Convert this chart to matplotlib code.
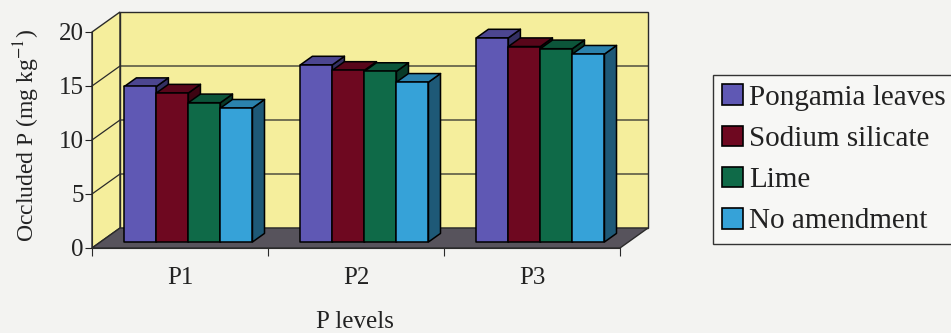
import numpy as np
import matplotlib.pyplot as plt
import matplotlib.colors as mcolors
from matplotlib.patches import Polygon, Patch

# data
levels = ['P1', 'P2', 'P3']
treatments = ['Pongamia leaves', 'Sodium silicate', 'Lime', 'No amendment']
pongamia = [14.4, 16.4, 18.9]
sodium = [13.8, 15.9, 18.1]
lime = [12.9, 15.8, 17.9]
no_amend = [12.4, 14.8, 17.4]
series = [pongamia, sodium, lime, no_amend]
colors = ['#5f58b4', '#6e0820', '#0f6a48', '#36a2d8']
yticks = [0, 5, 10, 15, 20]

plt.rcParams['font.family'] = ['Liberation Serif', 'DejaVu Serif']
plt.rcParams['mathtext.fontset'] = 'stix'

W, H = 951, 333
fig = plt.figure(figsize=(W / 100, H / 100), dpi=100)
fig.patch.set_facecolor('#f3f3f1')

# front plane of the pseudo-3d box, in pixels
x0, x1, y0, y1 = 92, 620, 248, 32
ax = fig.add_axes([x0 / W, 1 - y0 / H, (x1 - x0) / W, (y0 - y1) / H])
ax.set_xlim(0, 3)
ax.set_ylim(0, 20)
ax.patch.set_visible(False)

# depth offset of the box (28 px right, 20 px up)
ddx = 28 * 3 / (x1 - x0)
ddy = 20 * 20 / (y0 - y1)

wall = '#f5ee9c'
edge = '#2a2a2a'
ax.add_patch(Polygon([(0, 0), (ddx, ddy), (ddx, 20 + ddy), (0, 20)],
                     fc=wall, ec=edge, lw=1, zorder=0, clip_on=False))
ax.add_patch(Polygon([(ddx, ddy), (3 + ddx, ddy), (3 + ddx, 20 + ddy), (ddx, 20 + ddy)],
                     fc=wall, ec=edge, lw=1, zorder=0, clip_on=False))
ax.add_patch(Polygon([(0, 0), (3, 0), (3 + ddx, ddy), (ddx, ddy)],
                     fc='#57535c', ec=edge, lw=1, zorder=1, clip_on=False))
for v in yticks[1:-1]:
    ax.plot([0, ddx, 3 + ddx], [v, v + ddy, v + ddy], color=edge, lw=0.9,
            zorder=0.5, clip_on=False)

# bars
bw = 0.182
f0, f1 = 0.3, 0.73
ox, oy = (f1 - f0) * ddx, (f1 - f0) * ddy
for ci in range(len(levels)):
    start = ci + 0.5 - 2 * bw
    for si, vals in enumerate(series):
        L = start + si * bw + f0 * ddx
        R = L + bw
        b = f0 * ddy
        t = b + vals[ci]
        c = np.array(mcolors.to_rgb(colors[si]))
        front = [(L, b), (R, b), (R, t), (L, t)]
        top = [(L, t), (R, t), (R + ox, t + oy), (L + ox, t + oy)]
        side = [(R, b), (R + ox, b + oy), (R + ox, t + oy), (R, t)]
        for poly, shade in ((side, 0.55), (top, 0.8), (front, 1.0)):
            ax.add_patch(Polygon(poly, fc=c * shade, ec='black', lw=1.1,
                                 zorder=2, clip_on=False, joinstyle='round'))

# axes
for s in ['top', 'right']:
    ax.spines[s].set_visible(False)
for s in ['left', 'bottom']:
    ax.spines[s].set_color(edge)
    ax.spines[s].set_zorder(3)
ax.set_yticks(yticks)
ax.set_xticks([0, 1, 2, 3])
ax.set_xticklabels([])
ax.set_xticks([0.5, 1.5, 2.5], minor=True)
ax.set_xticklabels(levels, minor=True)
ax.tick_params(axis='y', labelsize=18, length=5, pad=1, colors='#222')
ax.tick_params(axis='x', which='major', length=6, colors=edge)
ax.tick_params(axis='x', which='minor', length=0, labelsize=18, pad=14, labelcolor='#222')

fig.text(27 / W, 1 - 135 / H, 'Occluded P (mg kg$^{-1}$)', rotation=90,
         ha='center', va='center', fontsize=17, color='#222')
fig.text(355 / W, 1 - 322 / H, 'P levels', ha='center', va='center',
         fontsize=18, color='#222')

handles = [Patch(fc=c, ec='black', lw=1.2) for c in colors]
leg = fig.legend(handles, treatments, loc='upper left',
                 bbox_to_anchor=(713 / W, 1 - 75 / H), frameon=True, fancybox=False,
                 edgecolor='#333', facecolor='#f7f7f5', framealpha=1,
                 prop={'family': 'Liberation Serif', 'size': 21},
                 handlelength=0.72, handleheight=0.72,
                 handletextpad=0.2, labelspacing=0.5, borderpad=0.32,
                 borderaxespad=0)
leg.get_frame().set_linewidth(1)
for txt in leg.get_texts():
    txt.set_color('#222')

fig.savefig('out.png', dpi=100, facecolor=fig.get_facecolor())
